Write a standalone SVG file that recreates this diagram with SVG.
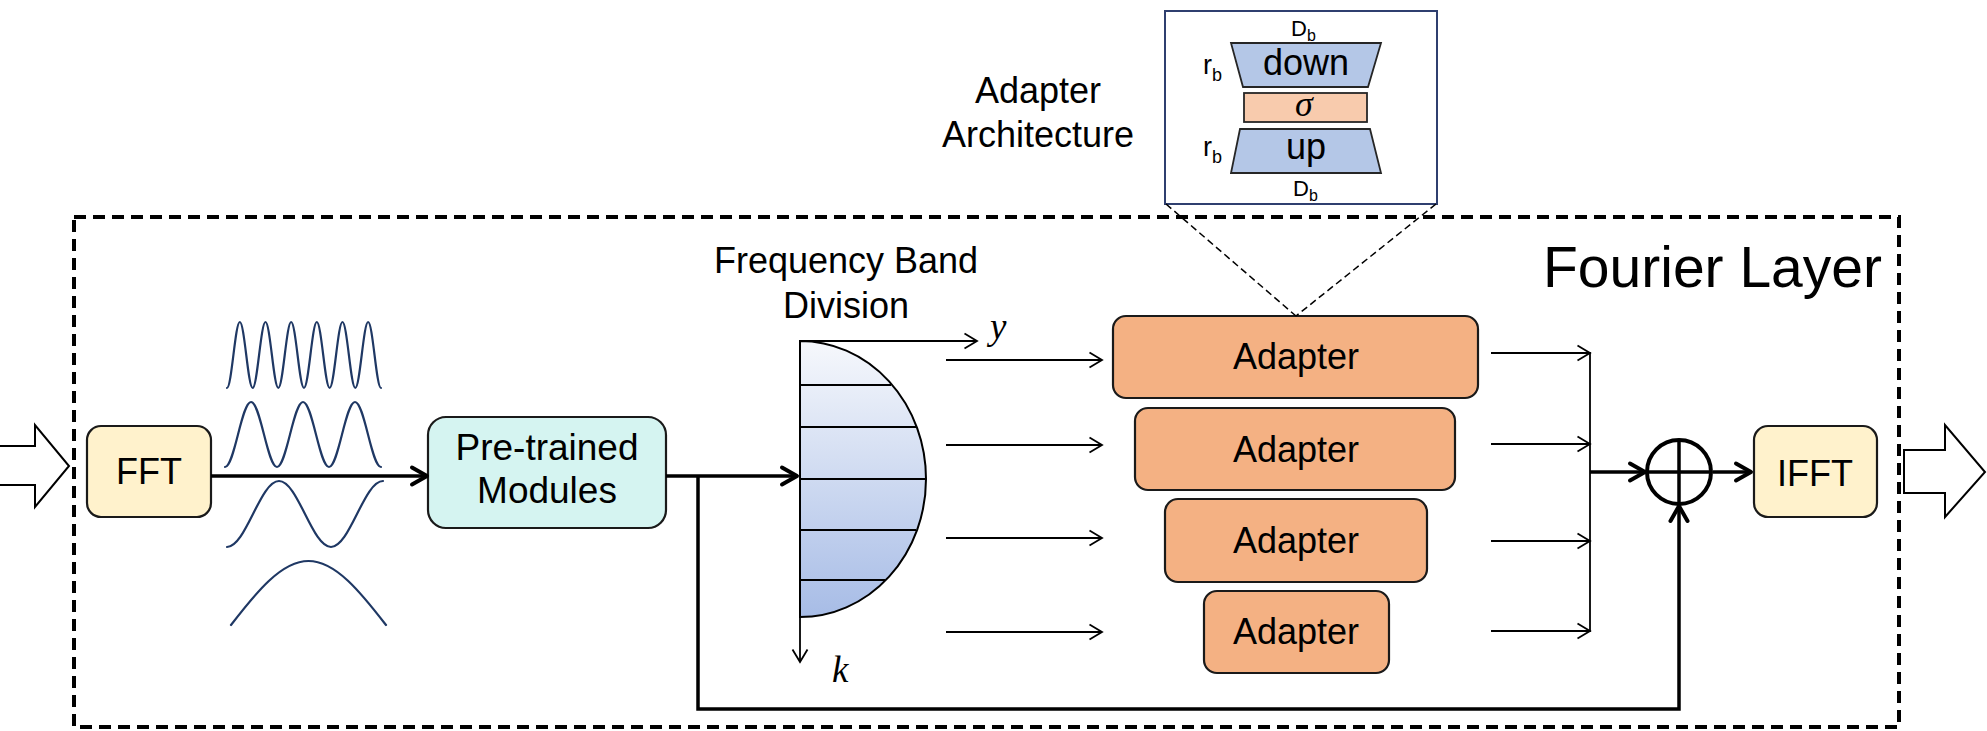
<svg xmlns="http://www.w3.org/2000/svg" width="1987" height="731" viewBox="0 0 1987 731">
<style>
.t{font-family:"Liberation Sans",Arial,sans-serif;fill:#000}
.m{font-family:"Liberation Serif","Times New Roman",serif;font-style:italic;fill:#000}
.box{stroke:#1a1a1a;stroke-width:2.2}
.fft{fill:#FFF2CC}
.ad{fill:#F4B183}
.wave{fill:none;stroke:#1F3864;stroke-width:2.2;stroke-linecap:round}
.thin{fill:none;stroke:#000;stroke-width:1.8}
.thick{fill:none;stroke:#000;stroke-width:3.5}
.blk{fill:#fff;stroke:#000;stroke-width:2}
</style>
<defs>
<marker id="aThin" markerUnits="userSpaceOnUse" markerWidth="16" markerHeight="18" viewBox="0 0 16 18" refX="14" refY="9" orient="auto">
<path d="M1.5,1.5 L14,9 L1.5,16.5" fill="none" stroke="#000" stroke-width="1.8"/>
</marker>
<marker id="aThick" markerUnits="userSpaceOnUse" markerWidth="22" markerHeight="24" viewBox="0 0 22 24" refX="18" refY="12" orient="auto">
<path d="M3,3.5 L18,12 L3,20.5" fill="none" stroke="#000" stroke-width="4" stroke-linecap="round" stroke-linejoin="round"/>
</marker>
<linearGradient id="gband" x1="0" y1="0" x2="0" y2="1">
<stop offset="0" stop-color="#F6F8FC"/>
<stop offset="1" stop-color="#A7BCE6"/>
</linearGradient>
</defs>

<g id="fourier-layer">
<rect x="74" y="217" width="1825" height="510" fill="none" stroke="#000" stroke-width="4" stroke-dasharray="12 7"/>
<text class="t" x="1882" y="287" font-size="57" text-anchor="end">Fourier Layer</text>
</g>

<g id="input-arrow">
<polygon class="blk" points="-3,446 35,446 35,425 69,466 35,507 35,485 -3,485"/>
</g>
<g id="output-arrow">
<polygon class="blk" points="1904,450 1945,450 1945,425 1985,472 1945,517 1945,493 1904,493"/>
</g>

<g id="fft">
<rect class="box fft" x="87" y="426" width="124" height="91" rx="14"/>
<text class="t" x="149" y="484" font-size="36" text-anchor="middle">FFT</text>
</g>

<g id="waves">
<path class="wave" d="M227,388 c4.67,0 8.17,-66 12.83,-66 s8.17,66 12.83,66 s8.17,-66 12.83,-66 s8.17,66 12.83,66 s8.17,-66 12.83,-66 s8.17,66 12.83,66 s8.17,-66 12.83,-66 s8.17,66 12.83,66 s8.17,-66 12.83,-66 s8.17,66 12.83,66 s8.17,-66 12.83,-66 s8.17,66 12.83,66"/>
<path class="wave" d="M225,467 c9.46,0 16.54,-65 26,-65 s16.54,65 26,65 s16.54,-65 26,-65 s16.54,65 26,65 s16.54,-65 26,-65 s16.54,65 26,65"/>
<path class="wave" d="M227,547 c18.9,0 33.1,-66 52,-66 s33.1,66 52,66 s33.1,-66 52,-66"/>
<path class="wave" d="M231,625 c25.3,-32.8 50.4,-64 77.5,-64 s52.2,31.2 77.5,64"/>
</g>

<g id="pretrained">
<rect class="box" fill="#D5F4F1" x="428" y="417" width="238" height="111" rx="18"/>
<text class="t" x="547" y="460" font-size="37" text-anchor="middle">Pre-trained</text>
<text class="t" x="547" y="503" font-size="37" text-anchor="middle">Modules</text>
</g>

<g id="band-division">
<text class="t" x="846" y="273" font-size="36" text-anchor="middle">Frequency Band</text>
<text class="t" x="846" y="318" font-size="36" text-anchor="middle">Division</text>
<path d="M800,341 A126,138 0 0 1 800,617 Z" fill="url(#gband)" stroke="#000" stroke-width="2"/>
<g stroke="#000" stroke-width="2.2">
<line x1="800" y1="385" x2="891" y2="385"/>
<line x1="800" y1="427" x2="916" y2="427"/>
<line x1="800" y1="479" x2="925" y2="479"/>
<line x1="800" y1="530" x2="916" y2="530"/>
<line x1="800" y1="580" x2="885" y2="580"/>
</g>
<line class="thin" x1="800" y1="341" x2="977" y2="341" marker-end="url(#aThin)"/>
<line class="thin" x1="800" y1="341" x2="800" y2="662" stroke-width="2" marker-end="url(#aThin)"/>
<text class="m" x="990" y="339" font-size="37">y</text>
<text class="m" x="832" y="682" font-size="37">k</text>
</g>

<g id="adapter-1">
<rect class="box ad" x="1113" y="316" width="365" height="82" rx="13"/>
<text class="t" x="1296" y="369" font-size="36" text-anchor="middle">Adapter</text>
</g>
<g id="adapter-2">
<rect class="box ad" x="1135" y="408" width="320" height="82" rx="13"/>
<text class="t" x="1296" y="462" font-size="36" text-anchor="middle">Adapter</text>
</g>
<g id="adapter-3">
<rect class="box ad" x="1165" y="499" width="262" height="83" rx="13"/>
<text class="t" x="1296" y="553" font-size="36" text-anchor="middle">Adapter</text>
</g>
<g id="adapter-4">
<rect class="box ad" x="1204" y="591" width="185" height="82" rx="13"/>
<text class="t" x="1296" y="644" font-size="36" text-anchor="middle">Adapter</text>
</g>

<g id="adapter-architecture">
<text class="t" x="1038" y="103" font-size="36" text-anchor="middle">Adapter</text>
<text class="t" x="1038" y="147" font-size="36" text-anchor="middle">Architecture</text>
<rect x="1165" y="11" width="272" height="193" fill="#fff" stroke="#2F3F6F" stroke-width="2"/>
<text class="t" x="1291" y="36" font-size="22">D<tspan font-size="16" dy="5">b</tspan></text>
<polygon points="1231,43 1381,43 1368,87 1243,87" fill="#B4C7E7" stroke="#262626" stroke-width="1.8"/>
<text class="t" x="1306" y="75" font-size="36" text-anchor="middle">down</text>
<rect x="1244" y="93" width="123" height="29" fill="#F8CBAD" stroke="#262626" stroke-width="1.8"/>
<text class="m" x="1304" y="116" font-size="36" text-anchor="middle">σ</text>
<polygon points="1240,129 1370,129 1381,173 1231,173" fill="#B4C7E7" stroke="#262626" stroke-width="1.8"/>
<text class="t" x="1306" y="159" font-size="36" text-anchor="middle">up</text>
<text class="t" x="1293" y="196" font-size="22">D<tspan font-size="16" dy="5">b</tspan></text>
<text class="t" x="1203" y="74" font-size="27">r<tspan font-size="18" dy="7">b</tspan></text>
<text class="t" x="1203" y="156" font-size="27">r<tspan font-size="18" dy="7">b</tspan></text>
</g>

<g id="sum">
<circle cx="1679" cy="472" r="32" fill="#fff" stroke="#000" stroke-width="4"/>
<line x1="1647" y1="472" x2="1711" y2="472" stroke="#000" stroke-width="3.5"/>
<line x1="1679" y1="440" x2="1679" y2="504" stroke="#000" stroke-width="3.5"/>
</g>

<g id="ifft">
<rect class="box fft" x="1754" y="426" width="123" height="91" rx="14"/>
<text class="t" x="1815" y="486" font-size="36" text-anchor="middle">IFFT</text>
</g>

<g id="connectors">
<line class="thick" x1="211" y1="476" x2="427" y2="476" marker-end="url(#aThick)"/>
<line class="thick" x1="666" y1="476" x2="797" y2="476" marker-end="url(#aThick)"/>
<path class="thick" d="M698,476 V709 H1679 V506" marker-end="url(#aThick)"/>
<line class="thin" x1="946" y1="360" x2="1102" y2="360" marker-end="url(#aThin)"/>
<line class="thin" x1="946" y1="445" x2="1102" y2="445" marker-end="url(#aThin)"/>
<line class="thin" x1="946" y1="538" x2="1102" y2="538" marker-end="url(#aThin)"/>
<line class="thin" x1="946" y1="632" x2="1102" y2="632" marker-end="url(#aThin)"/>
<line class="thin" x1="1491" y1="353" x2="1590" y2="353" marker-end="url(#aThin)"/>
<line class="thin" x1="1491" y1="444" x2="1590" y2="444" marker-end="url(#aThin)"/>
<line class="thin" x1="1491" y1="541" x2="1590" y2="541" marker-end="url(#aThin)"/>
<line class="thin" x1="1491" y1="631" x2="1590" y2="631" marker-end="url(#aThin)"/>
<line class="thin" x1="1590" y1="352" x2="1590" y2="632" stroke-width="2"/>
<line class="thick" x1="1590" y1="472" x2="1645" y2="472" marker-end="url(#aThick)"/>
<line class="thick" x1="1713" y1="472" x2="1751" y2="472" marker-end="url(#aThick)"/>
<line x1="1166" y1="204" x2="1296" y2="316" stroke="#000" stroke-width="1.5" stroke-dasharray="7 4"/>
<line x1="1436" y1="204" x2="1296" y2="316" stroke="#000" stroke-width="1.5" stroke-dasharray="7 4"/>
</g>
</svg>
